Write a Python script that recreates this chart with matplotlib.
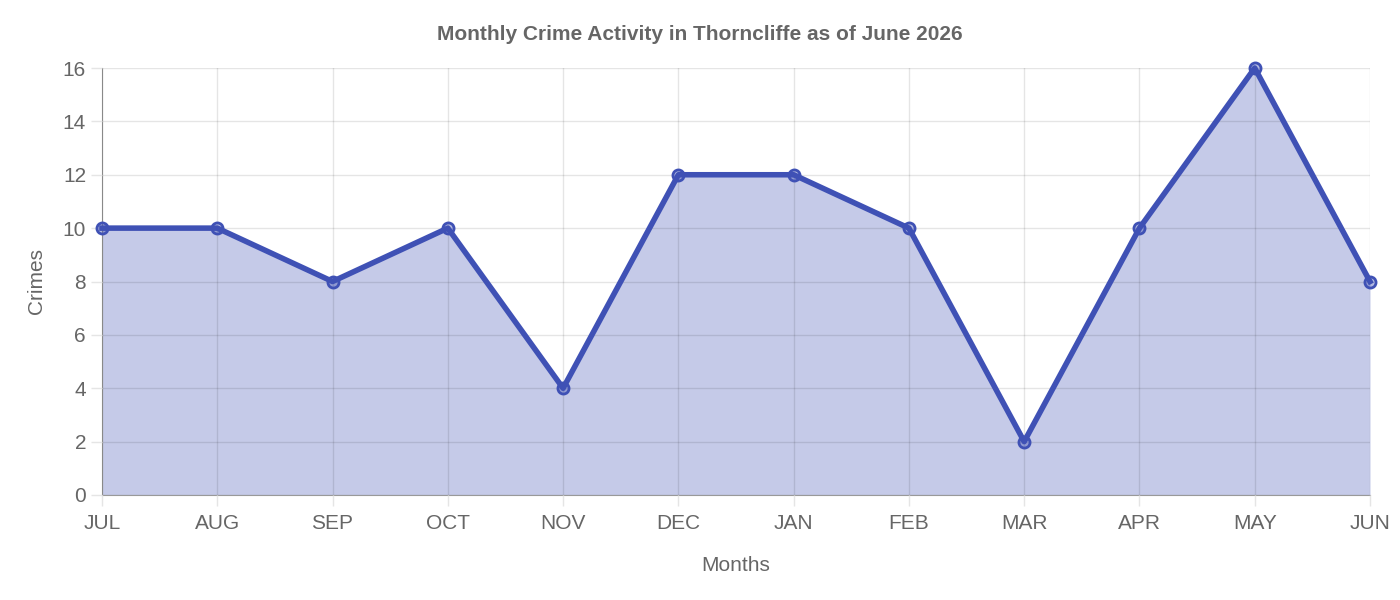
import matplotlib.pyplot as plt

months = ['JUL', 'AUG', 'SEP', 'OCT', 'NOV', 'DEC', 'JAN', 'FEB', 'MAR', 'APR', 'MAY', 'JUN']
crimes = [10, 10, 8, 10, 4, 12, 12, 10, 2, 10, 16, 8]

plt.rcParams['font.family'] = ['Liberation Sans', 'DejaVu Sans']
grey = '#666666'
blue = '#3f51b5'

fig = plt.figure(figsize=(14, 6), dpi=100)
ax = fig.add_axes([102 / 1400, 1 - 495 / 600, 1268 / 1400, 427 / 600])

x = list(range(len(months)))
ax.fill_between(x, crimes, 0, color=blue, alpha=0.3, linewidth=0, zorder=1)
ax.plot(x, crimes, color=blue, linewidth=4, zorder=3,
        marker='o', markersize=8, markerfacecolor=(63 / 255, 81 / 255, 181 / 255, 0.4),
        markeredgecolor=blue, markeredgewidth=2, clip_on=False)

ax.set_xlim(0, len(months) - 1)
ax.set_ylim(0, 16)
ax.set_xticks(x)
ax.set_xticklabels(months)
ax.set_yticks(range(0, 17, 2))
for side in ['top', 'right']:
    ax.spines[side].set_visible(False)
for side in ['left', 'bottom']:
    ax.spines[side].set_color('#999999')
ax.tick_params(labelcolor=grey, labelsize=15, length=8, width=1, color='#e5e5e5')
ax.tick_params(axis='x', pad=6)
ax.set_axisbelow(False)
ax.grid(True, color='black', alpha=0.1, linewidth=1, zorder=2)

ax.set_xlabel('Months', color=grey, fontsize=15, labelpad=16)
ax.set_ylabel('Crimes', color=grey, fontsize=15, labelpad=12)
fig.text(0.5, 1 - 34 / 600, 'Monthly Crime Activity in Thorncliffe as of June 2026',
         ha='center', va='center', color=grey, fontsize=15, fontweight='bold')

fig.savefig('out.png', dpi=100)
